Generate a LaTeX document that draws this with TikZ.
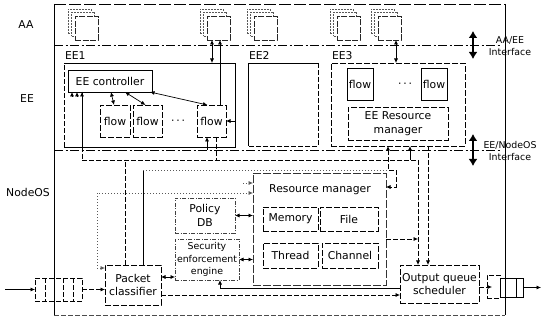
\documentclass[tikz,border=0pt]{standalone}
\usepackage{fontspec}
\setmainfont{DejaVu Sans}
\usetikzlibrary{arrows.meta,calc}
\begin{document}
\begin{tikzpicture}[x=1pt,y=-1pt,line width=0.7pt,>={Latex[length=4.5pt,width=4pt]},
  every node/.style={inner sep=0pt,outer sep=0pt},
  txt/.style={font=\fontsize{10.8}{13.5}\selectfont,align=center},
  stxt/.style={font=\fontsize{9.4}{12.5}\selectfont,align=center},
  rect/.style={anchor=north west,txt},
  solidbox/.style={rect,draw},
  dbox/.style={rect,draw,dash pattern=on 6pt off 2pt},
  gbox/.style={rect,draw=black!75,dash pattern=on 4pt off 1.5pt on 1pt off 1.5pt},
  sheet/.style={anchor=north west,draw=black!65,dash pattern=on 2pt off 1pt,fill=white,minimum width=23pt,minimum height=24pt},
  fsheet/.style={sheet,draw=black!85,dash pattern=on 6pt off 1.5pt},
  sepline/.style={dash pattern=on 9pt off 2.5pt on 2pt off 2.5pt},
  dsh/.style={dash pattern=on 5pt off 2pt},
  dtt/.style={draw=black!65,dash pattern=on 1.2pt off 1.8pt},
  ifarrow/.style={line width=2.4pt,{Latex[length=7pt,width=9pt]}-{Latex[length=7pt,width=9pt]}}
]
\fill[white] (0,0) rectangle (542,321);
\useasboundingbox (0,0) rectangle (542,321);

% outer frame
\coordinate (tl) at (54,4); \coordinate (tr) at (505,4);
\coordinate (bl) at (54,315); \coordinate (br) at (505,315);
\draw (tl) -- (bl);
\draw (tr) -- (br);
\draw[dash pattern=on 12pt off 3pt] (tl) -- (tr);
\draw[dsh,black!70] (bl) -- (br);

% layer separators
\coordinate (aaL) at (54,45); \coordinate (aaR) at (500,45);
\coordinate (eeL) at (54,150); \coordinate (eeR) at (500,150);
\draw[sepline] (aaL) -- (aaR);
\draw[sepline] (eeL) -- (eeR);

% interface arrows
\coordinate (ia1) at (473,31); \coordinate (ia2) at (473,59);
\coordinate (ib1) at (473,134); \coordinate (ib2) at (473,166);
\draw[ifarrow] (ia1) -- (ia2);
\draw[ifarrow] (ib1) -- (ib2);

% layer labels
\node[txt] (lAA) at (26,25) {AA};
\node[txt] (lEE) at (27,99) {EE};
\node[txt] (lNOS) at (28,192) {NodeOS};
\node[stxt] (ifAA) at (510,46) {AA/EE\\Interface};
\node[stxt] (ifEE) at (510,151) {EE/NodeOS\\Interface};

% AA stacks
\foreach \x/\n in {68/1,200/2,247/3,330/4,371/5} {
  \node[sheet] (s\n-a) at (\x,9) {};
  \node[sheet] (s\n-b) at (\x+3.5,12.5) {};
  \node[fsheet] (s\n) at (\x+7,16) {};
}

% EE1
\node[anchor=north west,minimum width=171pt,minimum height=84pt] (ee1) at (64,63) {};
\draw (ee1.north west) -- (ee1.north east) -- (ee1.south east) -- (ee1.south west);
\draw[dsh] (ee1.south west) -- (ee1.north west);
\node[txt,anchor=base west] (ee1l) at (65,60) {EE1};
% EE2
\node[anchor=north west,minimum width=70pt,minimum height=83pt] (ee2) at (248,63) {};
\draw (ee2.south west) -- (ee2.north west) -- (ee2.north east);
\draw[dsh] (ee2.north east) -- (ee2.south east) -- (ee2.south west);
\node[txt,anchor=base west] (ee2l) at (249,60) {EE2};
% EE3
\node[dbox,minimum width=134pt,minimum height=83pt] (ee3) at (331,63) {};
\node[txt,anchor=base west] (ee3l) at (332,60) {EE3};

\node[solidbox,minimum width=84pt,minimum height=22pt] (ctrl) at (68,70) {EE controller};
\node[dbox,minimum width=30pt,minimum height=32pt] (f1) at (100,105) {flow};
\node[dbox,minimum width=29pt,minimum height=32pt] (f2) at (133,105) {flow};
\node[dbox,minimum width=29pt,minimum height=32pt] (f3) at (197,105) {flow};
\node[txt] (dots1) at (178,122) {·\,·\,·};
\node[solidbox,minimum width=26pt,minimum height=32pt] (f4) at (347,68) {flow};
\node[solidbox,minimum width=26pt,minimum height=32pt] (f5) at (421,68) {flow};
\node[txt] (dots2) at (405,85) {·\,·\,·};
\node[dbox,minimum width=100pt,minimum height=33pt] (eerm) at (348,107) {EE Resource\\manager};

% NodeOS
\node[rect,draw=black!80,dash pattern=on 8pt off 2pt,minimum width=133pt,minimum height=112pt] (rm) at (253,173) {};
\node[txt] (rml) at (320,190) {Resource manager};
\node[gbox,minimum width=60pt,minimum height=35pt] (pdb) at (175,198) {Policy\\DB};
\node[gbox,stxt,minimum width=64pt,minimum height=41pt] (sec) at (175,239) {Security\\enforcement\\engine};
\node[dbox,minimum width=55pt,minimum height=24pt] (mem) at (263,207) {Memory};
\node[dbox,minimum width=58pt,minimum height=24pt] (file) at (320,207) {File};
\node[dbox,minimum width=55pt,minimum height=25pt] (thr) at (263,243) {Thread};
\node[dbox,minimum width=56pt,minimum height=25pt] (chan) at (322,243) {Channel};
\node[dbox,minimum width=56pt,minimum height=40pt] (pc) at (105,265) {Packet\\classifier};
\node[dbox,minimum width=79pt,minimum height=38pt] (oqs) at (400,265) {Output queue\\scheduler};

% queues
\node[anchor=north west,draw,dsh,minimum width=47pt,minimum height=23pt] (inq) at (35,278) {};
\foreach \d in {10,28,38}
  \draw[dsh] ([xshift=\d pt]inq.north west) -- ([xshift=\d pt]inq.south west);
\node[anchor=north west,draw,dsh,minimum width=13pt,minimum height=23pt] (outs) at (487,275) {};
\node[anchor=north west,draw,minimum width=23pt,minimum height=19pt] (outq) at (500,278) {};
\draw ([xshift=16pt]outq.north west) -- ([xshift=16pt]outq.south west);

% AA <-> EE connectors
\coordinate (c1) at (212,40); \coordinate (c2) at (220,40); \coordinate (c3) at (396,40);
\draw[<->] (c1) -- (c1 |- ee1.north);
\draw[<-] (c2) -- (c2 |- f3.north);
\draw[<->] (c3) -- (c3 |- ee3.north);

% inside EE1
\draw[<->] ([xshift=1pt]ctrl.south) -- ([xshift=-1pt]f1.north);
\draw[<->] ([xshift=15pt]ctrl.south) -- ([xshift=-2pt]f2.north);
\draw[<->] ([xshift=-2pt]ctrl.south east) -- ([xshift=-4pt]f3.north);
\draw[<-] (f3.east) -- (f3.east -| ee1.east);
\coordinate (c4) at (207,150); \coordinate (c5) at (216,160);
\draw[<-] (c4 |- f3.south) -- (c4);
\draw[dsh] (c5 |- f3.south) -- (c5);
\foreach \dx in {-38,-33,-28}
  \draw[<-] ([xshift=\dx pt]ctrl.south) -- ++(0,5);
\coordinate (n1) at (82,160); \coordinate (n2) at (418,160);
\draw (n1 |- ctrl.south) -- (n1 |- ee1.south);
\draw[dsh] (n1 |- ee1.south) -- (n1);

% EE <-> NodeOS
\draw[dsh] (n1) -- (n2);
\draw[dsh,->] (n2) -- (n2 |- oqs.north);
\coordinate (c6) at (410,160); \coordinate (c7) at (428,146);
\draw[<-] (c6 |- ee3.south) -- (c6);
\draw[dsh,->] (c7) -- (c7 |- oqs.north);
\coordinate (c8) at (388,170); \coordinate (c9) at (396,187);
\draw[dsh,<->] (c8 |- ee3.south) -- (c8) -| (c9) -- (c9 -| rm.east);

% packet classifier links
\coordinate (p1) at (125,160); \coordinate (p2) at (143,170);
\draw[dsh] (p1 |- pc.north) -- (p1);
\draw (p2 |- pc.north) -- (p2);
\draw[dtt] (p2) -- (c8);
\coordinate (p3) at (97,193); \coordinate (p4) at (243,183);
\draw[dtt,<->] ([yshift=-3pt]pc.north west) -| (p3) -- (p3 -| rm.west);
\draw[dtt,->] (p4) -- (p4 -| rm.west);

% NodeOS internal links
\draw[<->] (pdb.east) -- (pdb.east -| rm.west);
\draw[<->] (sec.east) -- (sec.east -| rm.west);
\coordinate (q1) at ([yshift=8pt]pc.east);
\draw[<->] (q1) -- (q1 -| sec.west);
\coordinate (q2) at ([xshift=13pt]sec.south); \coordinate (q3) at ([yshift=-4pt]oqs.west);
\draw[<-] (q2) |- (q3);
\coordinate (q4) at ([yshift=-10pt]pc.east);
\draw[dsh,->] (q4) -- (q4 -| oqs.west);
\coordinate (q5) at (386,239);
\draw[dsh,->] (q5) -- (q5 -| n2);

% input / output
\coordinate (inS) at (5,289.5); \coordinate (outE) at (541,287.5);
\draw[->] (inS) -- (inq.west);
\draw[dsh,->] (inq.east) -- (inq.east -| pc.west);
\draw[dsh,->] ([yshift=-3pt]oqs.east) -- ++(13,0);
\draw[->] (outq.east) -- (outE);
\end{tikzpicture}
\end{document}
